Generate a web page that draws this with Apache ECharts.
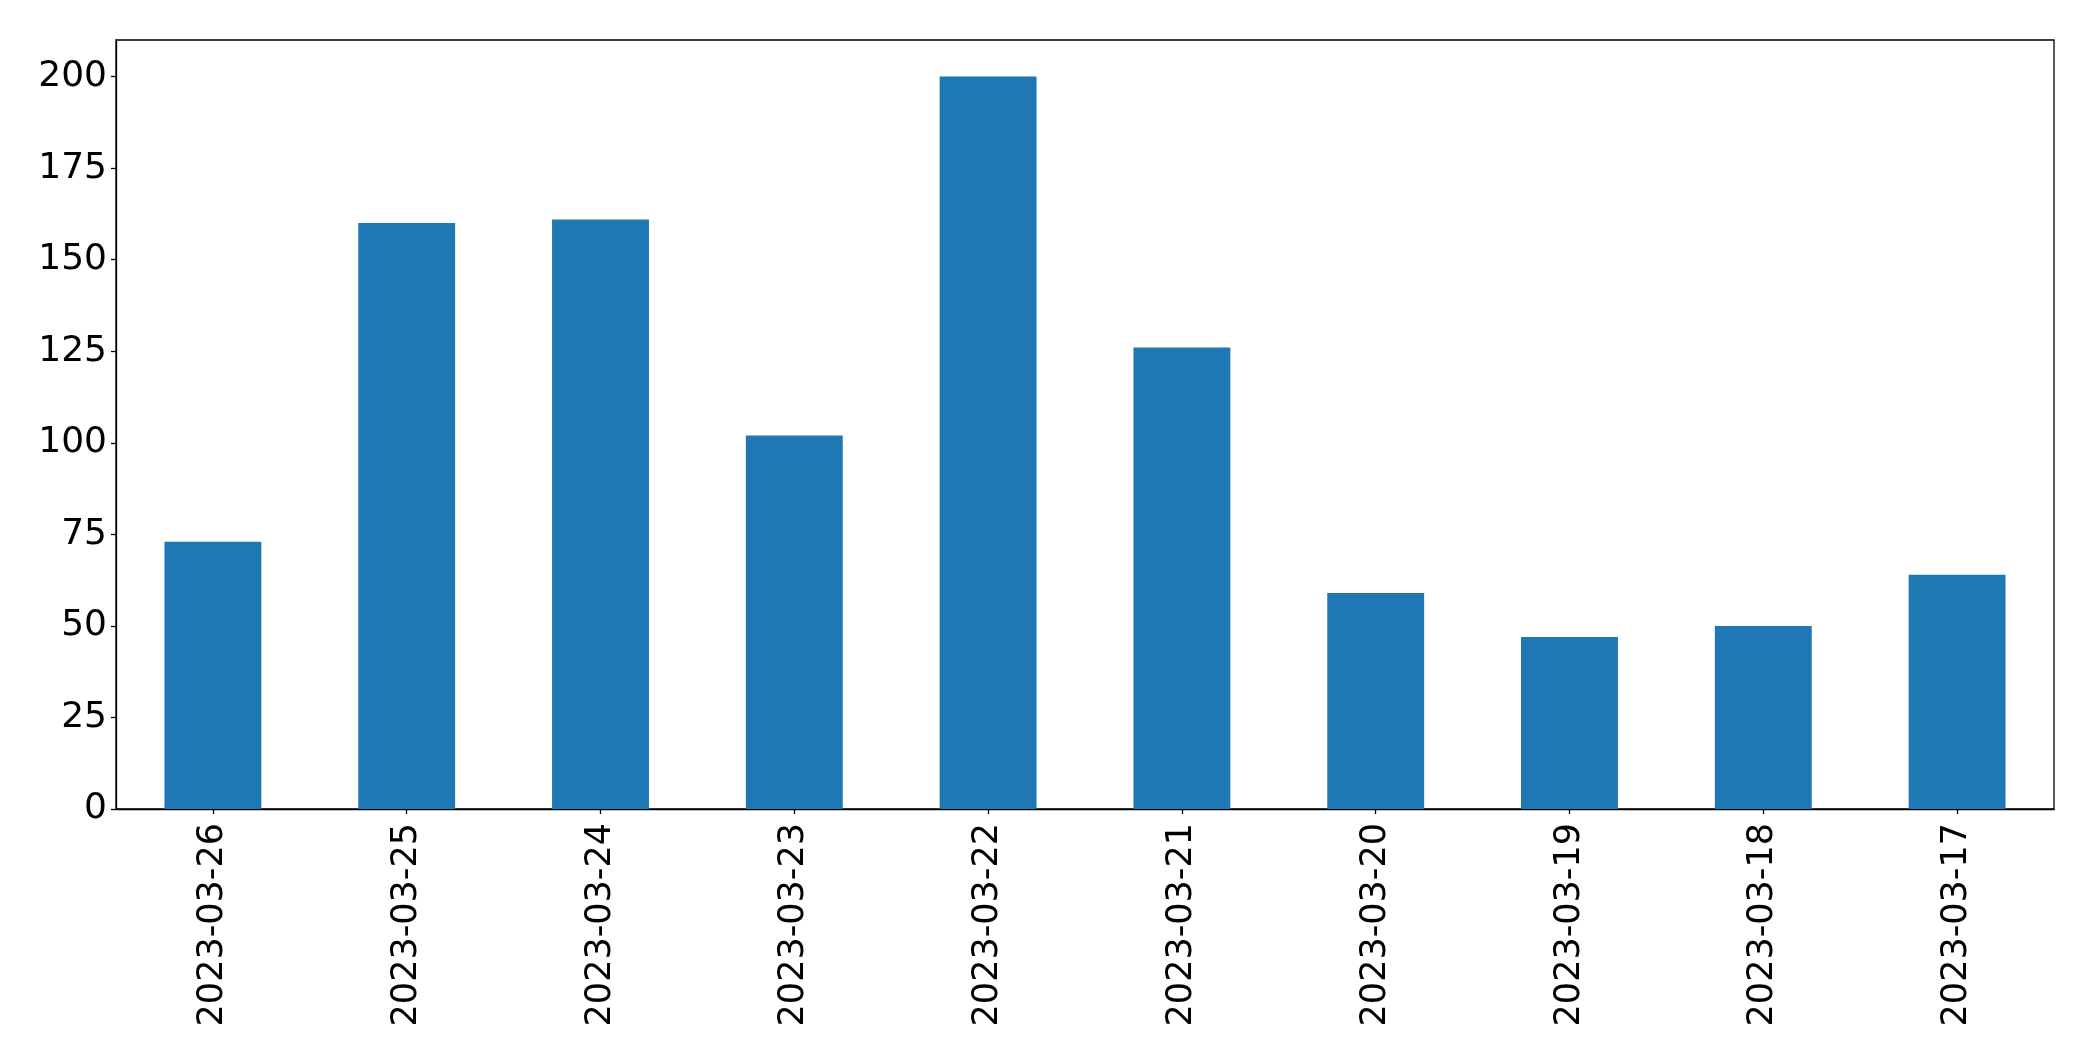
<!DOCTYPE html>
<html>
<head>
<meta charset="utf-8">
<script src="https://cdn.jsdelivr.net/npm/echarts@6/dist/echarts.min.js"></script>
<style>
  html, body { margin: 0; padding: 0; background: #fff; }
  #chart { width: 2093px; height: 1061px; }
</style>
</head>
<body>
<div id="chart"></div>
<script>
const dates = ['2023-03-26', '2023-03-25', '2023-03-24', '2023-03-23', '2023-03-22', '2023-03-21', '2023-03-20', '2023-03-19', '2023-03-18', '2023-03-17']
const counts = [73, 160, 161, 102, 200, 126, 59, 47, 50, 64]
const yTicks = [0, 25, 50, 75, 100, 125, 150, 175, 200]

const chart = echarts.init(document.getElementById('chart'))

const font = 'DejaVu Sans'

chart.setOption({
  animation: false,
  grid: {
    left: 116,
    right: 39,
    top: 40,
    bottom: 252,
    show: true,
    borderColor: '#000',
    borderWidth: 1.3,
    backgroundColor: 'transparent',
  },
  xAxis: {
    type: 'category',
    data: dates,
    axisLine: { show: true, lineStyle: { color: '#000', width: 1.3 } },
    axisTick: { show: true, alignWithLabel: true, length: 5, lineStyle: { color: '#000', width: 1.3 } },
    axisLabel: {
      rotate: 90,
      margin: 14,
      color: '#000',
      fontFamily: font,
      fontSize: 35,
    },
    splitLine: { show: false },
  },
  yAxis: {
    type: 'value',
    min: 0,
    max: 210,
    axisLine: { show: true, lineStyle: { color: '#000', width: 1.3 } },
    axisTick: { show: true, length: 5, customValues: yTicks, lineStyle: { color: '#000', width: 1.3 } },
    axisLabel: {
      customValues: yTicks,
      margin: 9,
      color: '#000',
      fontFamily: font,
      fontSize: 36,
    },
    splitLine: { show: false },
  },
  series: [
    {
      type: 'bar',
      data: counts,
      barWidth: '50%',
      itemStyle: { color: '#1f77b4' },
    },
  ],
})
</script>
</body>
</html>
